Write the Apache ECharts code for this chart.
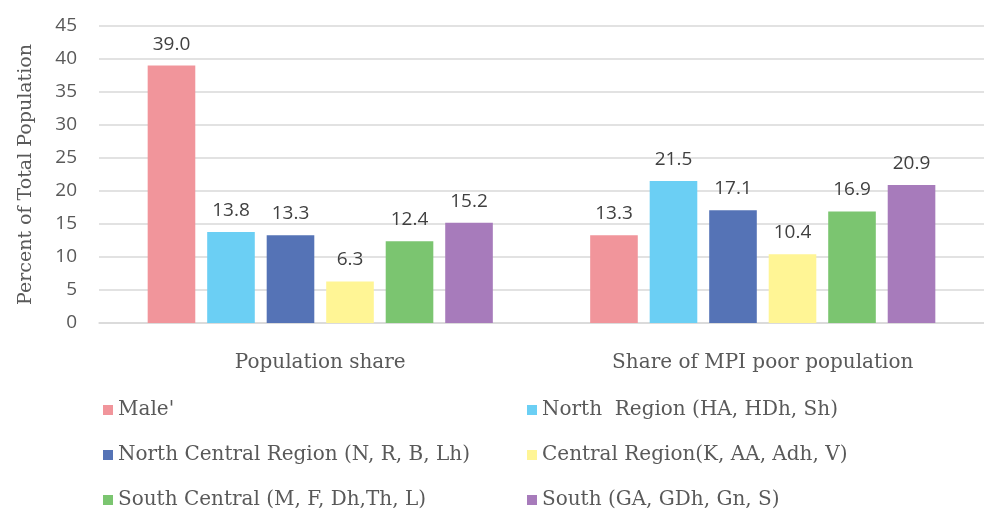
<!DOCTYPE html>
<html lang="en">
<head>
    <meta charset="UTF-8">
    <title>Population share</title>
    <script src="https://cdn.jsdelivr.net/npm/echarts@6/dist/echarts.min.js"></script>
</head>
<body style="margin:0">
    <div id="main" style="width: 984px;height:511px;"></div>
    <script type="text/javascript">
        // data
        var categories = ['Population share', 'Share of MPI poor population'];
        var seriesNames = ["Male'", 'North  Region (HA, HDh, Sh)', 'North Central Region (N, R, B, Lh)',
            'Central Region(K, AA, Adh, V)', 'South Central (M, F, Dh,Th, L)', 'South (GA, GDh, Gn, S)'];
        var male = [39.0, 13.3];
        var north = [13.8, 21.5];
        var northCentral = [13.3, 17.1];
        var central = [6.3, 10.4];
        var southCentral = [12.4, 16.9];
        var south = [15.2, 20.9];
        var colors = ['#F1959B', '#6BCFF4', '#5573B6', '#FFF595', '#7BC570', '#A77BBB'];

        var values = [male, north, northCentral, central, southCentral, south];
        var serif = '"DejaVu Serif", serif';
        var sans = '"Open Sans", sans-serif';

        var myChart = echarts.init(document.getElementById('main'));
        var legendText = { fontFamily: serif, fontSize: 20, color: '#595959' };
        var option = {
            animation: false,
            color: colors,
            grid: { left: 99, top: 26, right: -14, height: 297 },
            legend: [
                {
                    orient: 'vertical', left: 103, top: 400, height: 118, padding: 0, itemGap: 25,
                    itemWidth: 10, itemHeight: 10, icon: 'rect',
                    data: [seriesNames[0], seriesNames[2], seriesNames[4]],
                    textStyle: legendText
                },
                {
                    orient: 'vertical', left: 527, top: 400, height: 118, padding: 0, itemGap: 25,
                    itemWidth: 10, itemHeight: 10, icon: 'rect',
                    data: [seriesNames[1], seriesNames[3], seriesNames[5]],
                    textStyle: legendText
                }
            ],
            xAxis: {
                type: 'category',
                data: categories,
                axisTick: { show: false },
                axisLine: { lineStyle: { color: '#d9d9d9', width: 1.5 } },
                axisLabel: { fontFamily: serif, fontSize: 20, color: '#595959', margin: 30 }
            },
            yAxis: {
                type: 'value',
                min: 0, max: 45, interval: 5,
                name: 'Percent of Total Population',
                nameLocation: 'middle',
                nameGap: 63,
                nameTextStyle: { fontFamily: serif, fontSize: 19, color: '#595959' },
                axisLabel: { fontFamily: sans, fontSize: 19, color: '#595959', margin: 22 },
                splitLine: { lineStyle: { color: '#d9d9d9', width: 1.5 } }
            },
            series: values.map(function (v, i) {
                return {
                    name: seriesNames[i],
                    type: 'bar',
                    data: v,
                    barGap: '25%',
                    barCategoryGap: '22%',
                    label: {
                        show: true, position: 'top', distance: 12,
                        formatter: function (p) { return p.value.toFixed(1); },
                        fontFamily: sans, fontSize: 19, color: '#404040'
                    }
                };
            })
        };
        myChart.setOption(option);
    </script>
</body>
</html>
